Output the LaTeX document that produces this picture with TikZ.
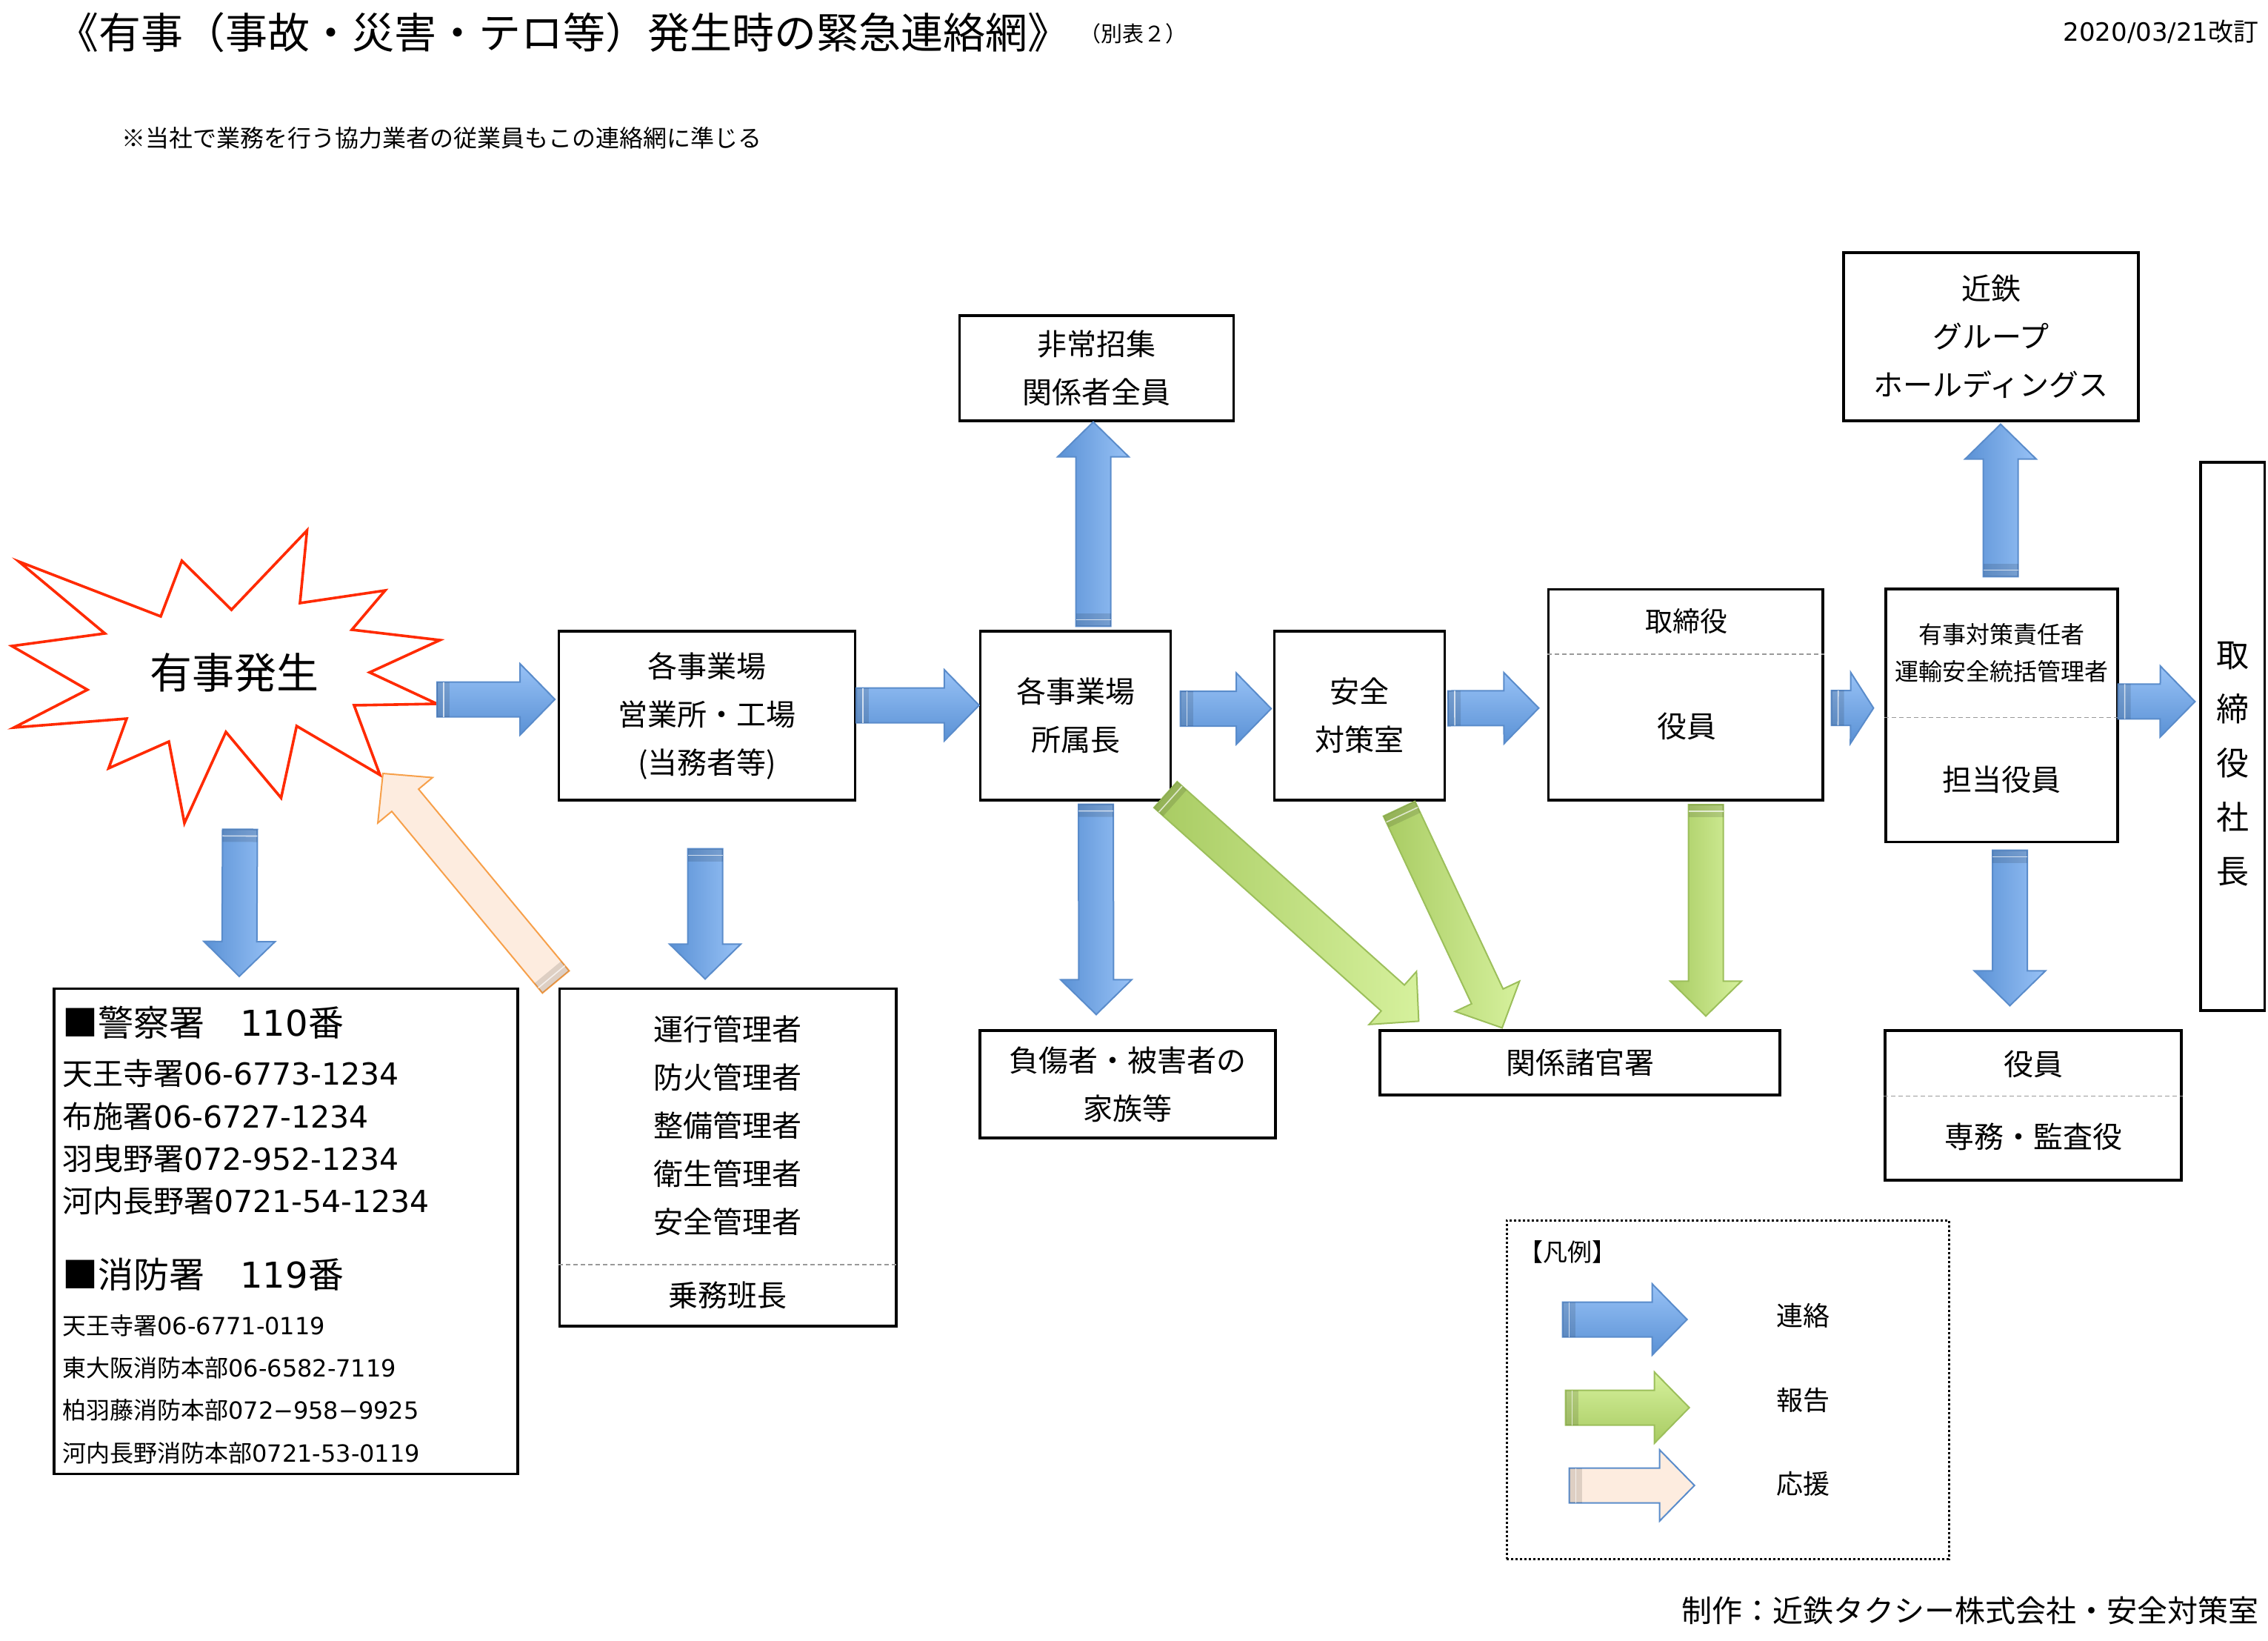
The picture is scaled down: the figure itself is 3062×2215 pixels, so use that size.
\documentclass[tikz,border=0pt]{standalone}
\usepackage{fontspec}
\setmainfont{Noto Sans CJK JP}
\newfontfamily\dgt{DejaVu Sans}
\usepackage{xcolor}
\usepackage{tikz}
\usetikzlibrary{calc}
\usetikzlibrary{positioning}

\definecolor{bluelight}{HTML}{98C2F6}
\definecolor{bluedark}{HTML}{5A91D5}
\definecolor{blueline}{HTML}{5A8CCB}
\definecolor{greenlight}{HTML}{D6F19D}
\definecolor{greendark}{HTML}{A8CB62}
\definecolor{greenline}{HTML}{9CBF5B}
\definecolor{peach}{HTML}{FDECDF}
\definecolor{orangeline}{HTML}{F7A04A}
\definecolor{burstred}{HTML}{FF2A00}

\tikzstyle{box}=[rectangle,draw=black,line width=1.6pt,fill=white,inner sep=0pt]
\tikzstyle{txt}=[inner sep=0pt,align=center,font=\fontsize{20}{32.5}\selectfont]
\tikzstyle{smalltxt}=[inner sep=0pt,align=center,font=\fontsize{16}{25}\selectfont]
\tikzstyle{listtxt}=[inner sep=0pt,anchor=west]
\tikzstyle{sep}=[draw=black!40,line width=0.6pt,dash pattern=on 3pt off 2pt]
\tikzstyle{legendbox}=[rectangle,draw=black,line width=1.5pt,dash pattern=on 1.5pt off 1.5pt,inner sep=0pt]
\tikzstyle{burst}=[draw=burstred,line width=1.8pt,fill=white]
\tikzstyle{flowh}=[draw=blueline,line width=1pt,top color=bluelight,bottom color=bluedark]
\tikzstyle{flowv}=[draw=blueline,line width=1pt,left color=bluedark,right color=bluelight]
\tikzstyle{reportd}=[draw=greenline,line width=1pt,left color=greendark,right color=greenlight]
\tikzstyle{reporth}=[draw=greenline,line width=1pt,top color=greenlight,bottom color=greendark]
\tikzstyle{support}=[draw=orangeline,line width=1pt,fill=peach]

\def\sw{11.75pt}
\def\hw{24pt}
\def\hl{23.5pt}
\newcommand{\fatarrow}[3][flowh]{%
  \coordinate (fa-s) at (#2);
  \coordinate (fa-e) at (#3);
  \coordinate (fa-h) at ($(fa-e)!\hl!(fa-s)$);
  \coordinate (fa-t) at ($(fa-s)!8.5pt!(fa-e)$);
  \coordinate (fa-l) at ($(fa-s)!4.5pt!(fa-e)$);
  \path[#1] ($(fa-s)!\sw!90:(fa-e)$) -- ($(fa-h)!\sw!-90:(fa-s)$) -- ($(fa-h)!\hw!-90:(fa-s)$) -- (fa-e)
     -- ($(fa-h)!\hw!90:(fa-s)$) -- ($(fa-h)!\sw!90:(fa-s)$) -- ($(fa-s)!\sw!-90:(fa-e)$) -- cycle;
  \fill[black,opacity=0.12] ($(fa-s)!\sw!90:(fa-e)$) -- ($(fa-t)!\sw!-90:(fa-s)$) -- ($(fa-t)!\sw!90:(fa-s)$) -- ($(fa-s)!\sw!-90:(fa-e)$) -- cycle;
  \draw[white,opacity=0.7,line width=0.8pt] ($(fa-l)!\sw!-90:(fa-s)$) -- ($(fa-l)!\sw!90:(fa-s)$);
}

\begin{document}
\begin{tikzpicture}[x=0.5pt,y=-0.5pt]

  \def\pxl{0.5pt}
  \useasboundingbox (0,0) rectangle (3062,2215);
  \fill[white] (0,0) rectangle (3062,2215);

  % headings
  \node[inner sep=0pt,anchor=west,font=\fontsize{28.5}{30}\selectfont] (title) at (76,44) {《有事（事故・災害・テロ等）発生時の緊急連絡網》};
  \node[inner sep=0pt,font=\fontsize{14.5}{16}\selectfont] (beppyo) at (1530,45) {（別表２）};
  \node[inner sep=0pt,anchor=east,font=\fontsize{17}{20}\selectfont] (date) at (3050,43) {{\dgt 2020/03/21}改訂};
  \node[inner sep=0pt,anchor=west,font=\fontsize{16}{18}\selectfont] (note) at (164,186) {※当社で業務を行う協力業者の従業員もこの連絡網に準じる};

  % starburst
  \foreach \x/\y [count=\i] in {25.5/758, 217/832, 245.5/757, 312.5/823, 414.5/716, 405/814, 520/797, 475/850,
      594/864, 499/907.6, 590/950, 478/952, 513/1046, 400.5/980, 379.5/1077, 305/988,
      249/1111, 228/1001, 146.7/1037, 171/970, 19/982, 118/931, 16/872, 141.6/855}
    \coordinate (b\i) at (\x,\y);
  \draw[burst] (b1) \foreach \i in {2,...,24}{ -- (b\i)} -- cycle;
  \node[txt,font=\fontsize{28.5}{30}\selectfont,minimum width=278pt,minimum height=203pt] (jiko) at (316,908) {有事発生};

  % boxes
  \foreach \x/\y/\w/\h/\name/\label in {954.6/966/399.6/228/eigyo/{各事業場\\営業所・工場\\(当務者等)},
      1452/966/257/228/shozoku/{各事業場\\所属長}, 1835.6/966/229.6/228/anzen/{安全\\対策室},
      1480.35/497/370/142/hijo/{非常招集\\関係者全員}, 2688/454.5/398/227/kintetsu/{近鉄\\グループ\\ホールディングス},
      1522.5/1463.5/399/145/fusho/{負傷者・被害者の\\家族等}, 2133/1434.5/540/87/kankei/{関係諸官署}}
    \node[box,txt,minimum width=\w*\pxl,minimum height=\h*\pxl] (\name) at (\x,\y) {\label};

  \foreach \x/\y/\w/\h/\name in {2275.75/937.75/370.5/284.5/torishimari, 2702.5/965.75/313/341.5/sekinin,
      2745/1492/400/202/yakuin, 982.85/1562.2/454.3/455.6/unko, 386/1662/626/655/keisatsu, 3014.25/994/86.5/740/shacho}
    \node[box,minimum width=\w*\pxl,minimum height=\h*\pxl] (\name) at (\x,\y) {};

  \foreach \name/\dy in {torishimari/-54.75, sekinin/2.75, yakuin/-12.4, unko/144.8}
    \draw[sep] ([shift={(0,\dy)}]\name.west) -- ([shift={(0,\dy)}]\name.east);

  % texts in the boxes
  \foreach \x/\y/\name/\label in {2277/980/torishimari-b/役員, 2702/1052/sekinin-b/担当役員,
      2745/1436/yakuin-a/役員, 2745/1534/yakuin-b/専務・監査役,
      982/1519.7/unko-a/{運行管理者\\防火管理者\\整備管理者\\衛生管理者\\安全管理者}, 982/1748/unko-b/乗務班長}
    \node[txt] (\name) at (\x,\y) {\label};
  \node[smalltxt] (sekinin-a) at (2702,881) {有事対策責任者\\運輸安全統括管理者};
  \node[txt,font=\fontsize{18.5}{20}\selectfont] (torishimari-a) at (2277,838) {取締役};
  \node[txt,font=\fontsize{22}{36.5}\selectfont] (shacho-t) at (3014,1031) {取\\締\\役\\社\\長};

  \foreach \y/\name/\label in {1380/police/{■警察署　{\dgt 110}番}, 1720/fire/{■消防署　{\dgt 119}番}}
    \node[listtxt,font=\fontsize{24}{26}\selectfont] (\name) at (84,\y) {\label};
  \foreach \y/\name/\label in {1449/p1/{天王寺署{\dgt 06-6773-1234}}, 1506.6/p2/{布施署{\dgt 06-6727-1234}},
      1564/p3/{羽曳野署{\dgt 072-952-1234}}, 1621/p4/{河内長野署{\dgt 0721-54-1234}}}
    \node[listtxt,font=\fontsize{20.5}{22}\selectfont] (\name) at (84,\y) {\label};
  \foreach \y/\name/\label in {1789/f1/{天王寺署{\dgt 06-6771-0119}}, 1846/f2/{東大阪消防本部{\dgt 06-6582-7119}},
      1903.7/f3/{柏羽藤消防本部{\dgt 072−958−9925}}, 1961/f4/{河内長野消防本部{\dgt 0721-53-0119}}}
    \node[listtxt,font=\fontsize{16}{18}\selectfont] (\name) at (84,\y) {\label};

  % legend
  \node[legendbox,minimum width=298.5pt,minimum height=228.5pt] (legend) at (2332.5,1875.5) {};
  \node[listtxt,font=\fontsize{16.5}{18}\selectfont] (hanrei) at (2050,1690) {【凡例】};
  \foreach \y/\name/\label in {1776/renraku/連絡, 1890/hokoku/報告, 2003/oen/応援}
    \node[txt,font=\fontsize{18}{20}\selectfont] (\name) at (2434,\y) {\label};

  \node[inner sep=0pt,anchor=east,font=\fontsize{20.5}{24}\selectfont] (credit) at (3050,2174) {制作：近鉄タクシー株式会社・安全対策室};

  % arrows
  \foreach \src/\ax/\ay/\dst/\bx/\by in {b11/0/-6/eigyo.west/-4/-22, eigyo.east/0/-14/shozoku.west/0/-14,
      shozoku.east/11.5/-9.5/anzen.west/-3/-9.5, anzen.east/3/-10/torishimari.west/-11.5/18,
      sekinin.east/-1/-19/shacho.west/-6/-47}
    {\fatarrow[flowh]{[shift={(\ax,\ay)}]\src}{[shift={(\bx,\by)}]\dst}}
  {\def\hl{15.5pt}
   \fatarrow[flowh]{[shift={(10,17.75)}]torishimari.east}{[shift={(-15,-10)}]sekinin.west}}

  \foreach \src/\ax/\ay/\dst/\bx/\by in {shozoku.north/24/-5/hijo.south/-4.35/0,
      sekinin.north/-1.5/-15/kintetsu.south/13/3, jiko.south/8/8/keisatsu.north/-63/-15,
      eigyo.south/-2.6/64/unko.north/-30.85/-11.4, shozoku.south/27.5/4/fusho.north/-42.5/-20,
      sekinin.south/11/9.5/yakuin.north/-31.5/-32}
    {\fatarrow[flowv]{[shift={(\ax,\ay)}]\src}{[shift={(\bx,\by)}]\dst}}

  \foreach \src/\ax/\ay/\dst/\bx/\by in {shozoku.south east/-8.5/-9/kankei.north west/54/-11,
      anzen.south/53.4/10/kankei.north/-105/-2, torishimari.south/27.25/4.6/kankei.north/170/-18}
    {\fatarrow[reportd]{[shift={(\ax,\ay)}]\src}{[shift={(\bx,\by)}]\dst}}

  \fatarrow[support]{[shift={(-3.7,-7.4)}]unko.north west}{[shift={(4,-2)}]b13}

  \fatarrow[flowh]{[shift={(-288,5)}]renraku.west}{[shift={(-120,5)}]renraku.west}
  \fatarrow[reporth]{[shift={(-284,10)}]hokoku.west}{[shift={(-117,10)}]hokoku.west}
  \fatarrow[support,draw=blueline]{[shift={(-279,2)}]oen.west}{[shift={(-110,2)}]oen.west}

\end{tikzpicture}
\end{document}
